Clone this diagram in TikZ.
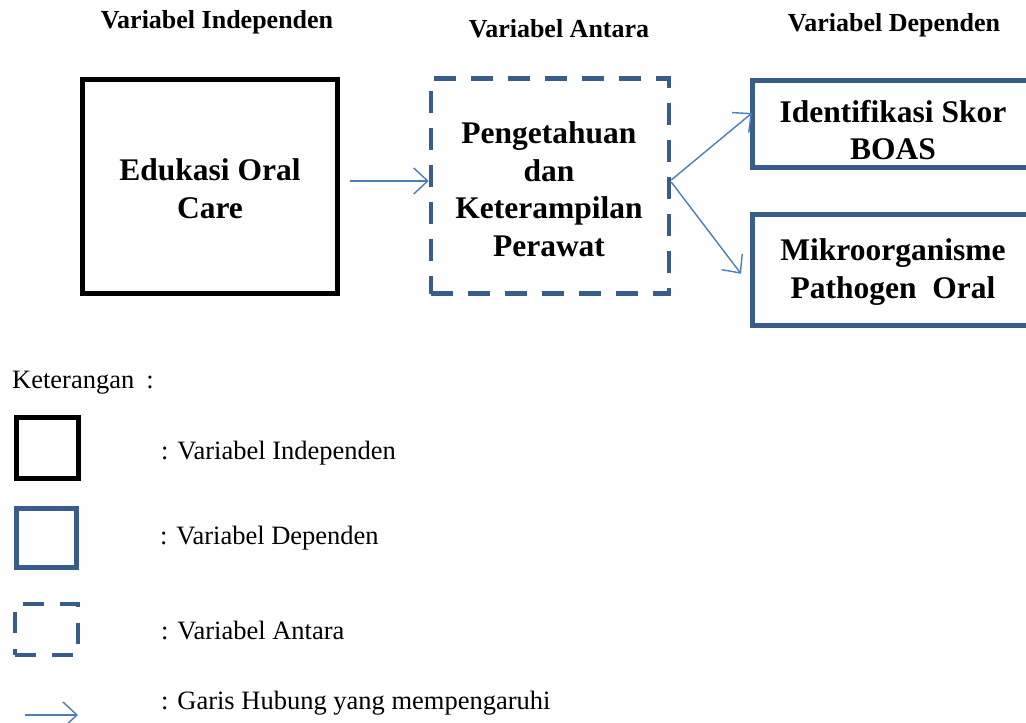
\documentclass[tikz,border=0pt]{standalone}
\usepackage{fontspec}
\setmainfont{Liberation Serif}
\usetikzlibrary{arrows.meta}

\definecolor{boxblue}{RGB}{56,93,138}
\definecolor{linkblue}{RGB}{74,126,187}

\tikzset{
  boxbase/.style={rectangle, inner sep=0pt, fill=white},
  indepbox/.style={boxbase, draw=black, line width=5pt},
  depbox/.style={boxbase, draw=boxblue, line width=5pt},
  antarabox/.style={boxbase, draw=boxblue, line width=4.5pt, dash pattern=on 22pt off 15pt},
  link/.style={draw=linkblue, line width=1.4pt, -{Straight Barb[length=14pt,width=26pt]}},
  heading/.style={font=\fontsize{26}{30}\selectfont\bfseries, inner sep=0pt},
  boxtext/.style={font=\fontsize{31.5}{37.5}\selectfont\bfseries, align=center, inner sep=0pt},
  legendtext/.style={font=\fontsize{26.5}{30}\selectfont, inner sep=0pt, anchor=west}
}

\begin{document}
\begin{tikzpicture}[x=1pt,y=-1pt]
  \useasboundingbox (0,0) rectangle (1026,723);
  \clip (0,0) rectangle (1026,723);

  % column headings
  \node[heading] (h1) at (217,22) {Variabel Independen};
  \node[heading] (h2) at (559,29) {Variabel Antara};
  \node[heading] (h3) at (894,25) {Variabel Dependen};

  % independent variable
  \node[indepbox, minimum width=255pt, minimum height=214pt] (edu) at (210,186) {};
  \node[boxtext] (edutxt) at (210,188.5) {Edukasi Oral\\Care};

  % intermediate variable
  \node[antarabox, minimum width=238pt, minimum height=215pt] (ant) at (550,186) {};
  \node[boxtext] (anttxt) at (549,189) {Pengetahuan\\dan\\Keterampilan\\Perawat};

  % dependent variables (run past the right edge)
  \node[depbox, minimum width=281pt, minimum height=87.5pt] (boas) at (893,123.75) {};
  \node[boxtext] (boastxt) at (893,130) {Identifikasi Skor\\BOAS};
  \node[depbox, minimum width=281pt, minimum height=111.5pt] (mikro) at (893,269.75) {};
  \node[boxtext] (mikrotxt) at (893,272) {Mikroorganisme\\Pathogen\ \ Oral};

  % influence arrows
  \draw[link] ([xshift=10pt,yshift=5pt]edu.east) -- ([yshift=5pt]ant.west);
  \draw[link] ([yshift=6pt]ant.east) -- ([xshift=2pt,yshift=10.75pt]boas.west);
  \draw[link] ([yshift=4pt]ant.east) -- ([xshift=-9pt,yshift=-4pt]mikro.west);

  % legend
  \node[legendtext] (ket) at (12,383) {Keterangan\hspace{12pt}:};

  \node[indepbox, minimum width=62pt, minimum height=61pt] (lg1) at (47.5,448) {};
  \node[legendtext] (lg1txt) at (161,453) {: Variabel Independen};

  \node[depbox, minimum width=60pt, minimum height=59pt] (lg2) at (46.5,538) {};
  \node[legendtext] (lg2txt) at (160,538) {: Variabel Dependen};

  \node[antarabox, line width=4.3pt, dash pattern=on 21pt off 16pt,
        minimum width=63pt, minimum height=51pt] (lg3) at (46.5,629.5) {};
  \node[legendtext] (lg3txt) at (161,630) {: Variabel Antara};

  \coordinate (lg4a) at (25,715);
  \coordinate (lg4b) at (78,715);
  \draw[link] (lg4a) -- (lg4b);
  \node[legendtext] (lg4txt) at (161,703) {: Garis Hubung yang mempengaruhi};
\end{tikzpicture}
\end{document}
